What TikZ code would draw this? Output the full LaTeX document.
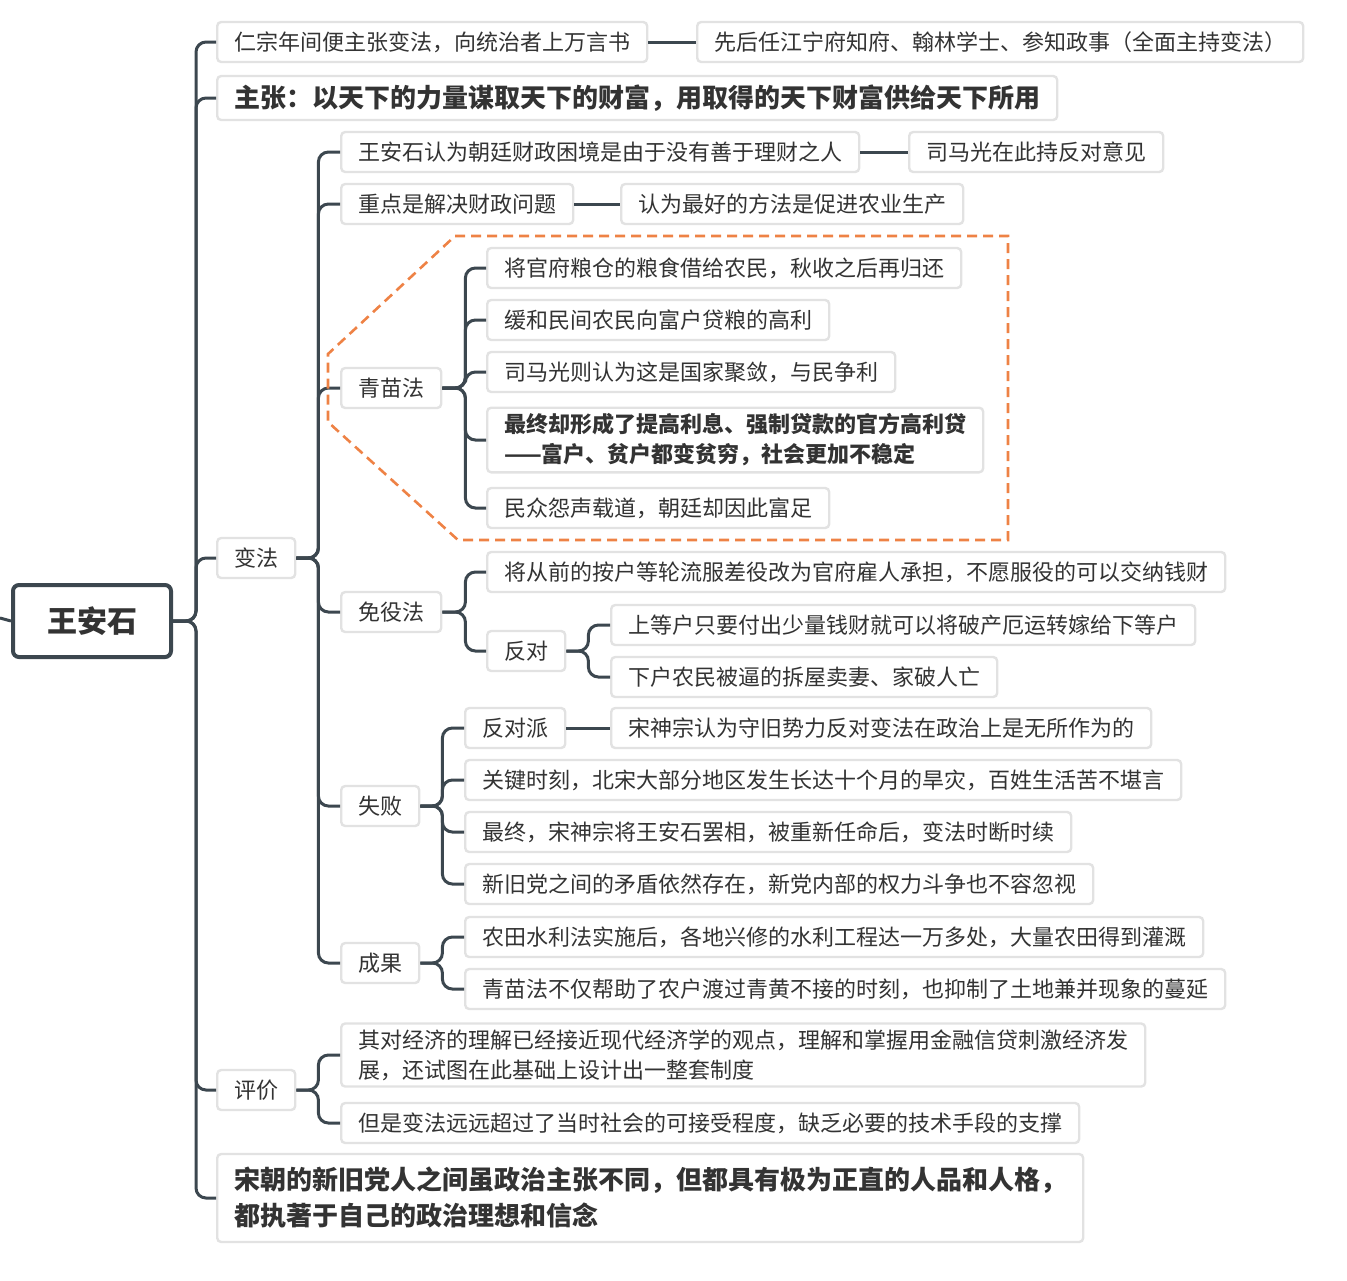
\documentclass[tikz,border=0pt]{standalone}
\usepackage{fontspec}
\newfontfamily\cjk{Noto Sans CJK SC}
\definecolor{linegray}{HTML}{3C474F}
\definecolor{boxgray}{HTML}{E2E2E2}
\definecolor{txtgray}{HTML}{333333}
\definecolor{dashorange}{HTML}{EE8245}
\begin{document}
\begin{tikzpicture}[x=0.5pt,y=-0.5pt,
  box/.style={draw=boxgray, line width=1.2pt, rounded corners=2pt, fill=white, anchor=west,
    inner xsep=8.5pt, inner ysep=3pt, minimum height=20pt, align=left, text=txtgray,
    font=\cjk\fontsize{11}{15}\selectfont},
  bold/.style={box, font=\cjk\bfseries\fontsize{13}{18}\selectfont},
  conn/.style={draw=linegray, line width=1.5pt, rounded corners=5pt},
  link/.style={draw=linegray, line width=1.5pt}]
\useasboundingbox (0,0) rectangle (1347,1280);

% root
\node[draw=linegray, line width=2pt, rounded corners=3pt, minimum width=79pt, minimum height=36pt,
  text=txtgray, font=\cjk\bfseries\fontsize{15}{18}\selectfont] (root) at (92,621) {王安石};
\coordinate (stub) at (0,618);
\draw[link] (stub) -- (root.west);

% first level
\node[box] (pre) at (216,42) {仁宗年间便主张变法，向统治者上万言书};
\node[box] (post) at (696,42) {先后任江宁府知府、翰林学士、参知政事（全面主持变法）};
\node[bold, minimum height=22pt] (idea) at (216,98) {主张：以天下的力量谋取天下的财富，用取得的天下财富供给天下所用};
\node[box] (reform) at (216,558) {变法};
\node[box] (judge) at (216,1090) {评价};
\node[bold, minimum height=44pt] (party) at (216,1198) {宋朝的新旧党人之间虽政治主张不同，但都具有极为正直的人品和人格，\\都执著于自己的政治理想和信念};
\foreach \n in {pre,idea,reform,judge,party}
  \draw[conn] (root.east) -- ++(23,0) |- (\n.west);
\draw[link] (pre.east) -- (post.west);

% reform
\node[box] (cause) at (340,152) {王安石认为朝廷财政困境是由于没有善于理财之人};
\node[box] (sima) at (908,152) {司马光在此持反对意见};
\node[box] (focus) at (340,204) {重点是解决财政问题};
\node[box] (farm) at (620,204) {认为最好的方法是促进农业生产};
\node[box] (qmf) at (340,388) {青苗法};
\node[box] (myf) at (340,612) {免役法};
\node[box] (fail) at (340,806) {失败};
\node[box] (gain) at (340,963) {成果};
\foreach \n in {cause,focus,qmf,myf,fail,gain}
  \draw[conn] (reform.east) -- ++(22,0) |- (\n.west);
\draw[link] (cause.east) -- (sima.west);
\draw[link] (focus.east) -- (farm.west);

% qingmiao
\node[box] (q1) at (486,268) {将官府粮仓的粮食借给农民，秋收之后再归还};
\node[box] (q2) at (486,320) {缓和民间农民向富户贷粮的高利};
\node[box] (q3) at (486,372) {司马光则认为这是国家聚敛，与民争利};
\node[box, font=\cjk\bfseries\fontsize{11}{15}\selectfont] (q4) at (486,440) {最终却形成了提高利息、强制贷款的官方高利贷\\——富户、贫户都变贫穷，社会更加不稳定};
\node[box] (q5) at (486,508) {民众怨声载道，朝廷却因此富足};
\foreach \n in {q1,q2,q3,q4,q5}
  \draw[conn] (qmf.east) -- ++(23,0) |- (\n.west);
\draw[dashorange, line width=1.3pt, dash pattern=on 5pt off 3pt]
  (455,236) -- (1008,236) -- (1008,540) -- (458,540) -- (328,422) -- (328,354) -- cycle;

% mianyi
\node[box] (m1) at (486,572) {将从前的按户等轮流服差役改为官府雇人承担，不愿服役的可以交纳钱财};
\node[box] (oppo) at (486,651) {反对};
\node[box] (o1) at (610,625) {上等户只要付出少量钱财就可以将破产厄运转嫁给下等户};
\node[box] (o2) at (610,677) {下户农民被逼的拆屋卖妻、家破人亡};
\foreach \n in {m1,oppo}
  \draw[conn] (myf.east) -- ++(23,0) |- (\n.west);
\foreach \n in {o1,o2}
  \draw[conn] (oppo.east) -- ++(22,0) |- (\n.west);

% fail
\node[box] (f1) at (464,728) {反对派};
\node[box] (f1b) at (610,728) {宋神宗认为守旧势力反对变法在政治上是无所作为的};
\node[box] (f2) at (464,780) {关键时刻，北宋大部分地区发生长达十个月的旱灾，百姓生活苦不堪言};
\node[box] (f3) at (464,832) {最终，宋神宗将王安石罢相，被重新任命后，变法时断时续};
\node[box] (f4) at (464,884) {新旧党之间的矛盾依然存在，新党内部的权力斗争也不容忽视};
\foreach \n in {f1,f2,f3,f4}
  \draw[conn] (fail.east) -- ++(22,0) |- (\n.west);
\draw[link] (f1.east) -- (f1b.west);

% gain
\node[box] (g1) at (464,937) {农田水利法实施后，各地兴修的水利工程达一万多处，大量农田得到灌溉};
\node[box] (g2) at (464,989) {青苗法不仅帮助了农户渡过青黄不接的时刻，也抑制了土地兼并现象的蔓延};
\foreach \n in {g1,g2}
  \draw[conn] (gain.east) -- ++(22,0) |- (\n.west);

% judge
\node[box] (j1) at (340,1055) {其对经济的理解已经接近现代经济学的观点，理解和掌握用金融信贷刺激经济发\\展，还试图在此基础上设计出一整套制度};
\node[box] (j2) at (340,1123) {但是变法远远超过了当时社会的可接受程度，缺乏必要的技术手段的支撑};
\foreach \n in {j1,j2}
  \draw[conn] (judge.east) -- ++(22,0) |- (\n.west);
\end{tikzpicture}
\end{document}
